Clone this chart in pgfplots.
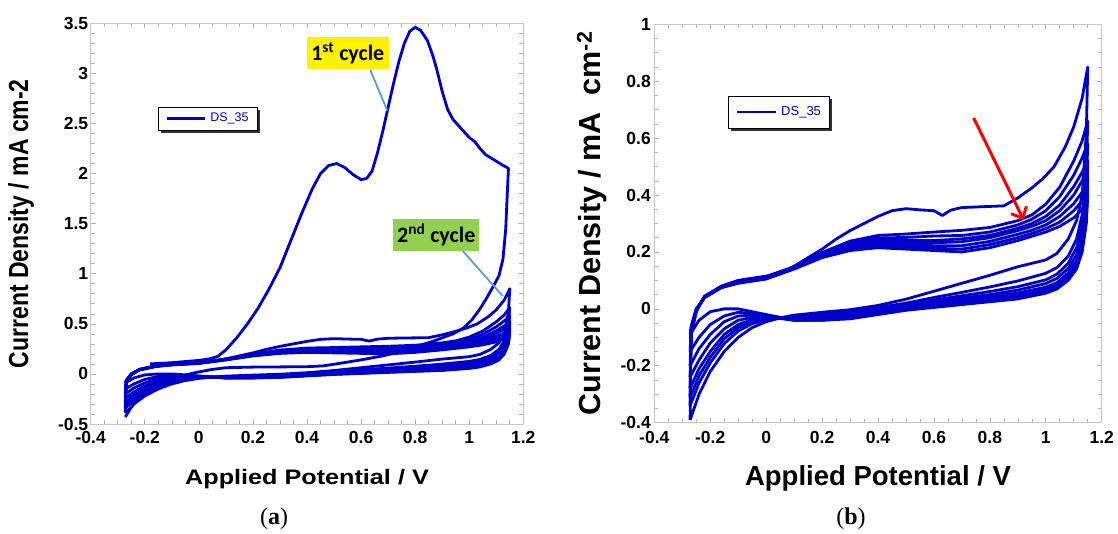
\documentclass[border=0pt]{standalone}
\usepackage{fontspec}
\setmainfont{Liberation Sans}
\newfontfamily\seriffont{Liberation Serif}
\newfontfamily\calib{Carlito}
\usepackage{pgfplots}
\pgfplotsset{compat=1.18}
\usepackage{pgfplotstable}
\usetikzlibrary{arrows.meta}
\definecolor{cvblue}{RGB}{0,0,204}
\definecolor{callout}{RGB}{91,155,213}
\definecolor{greenbox}{RGB}{146,208,80}

% cycle 1 (panel a only)
\pgfplotstableread{
x y
-0.18 0.10
-0.10 0.112
0.00 0.135
0.04 0.15
0.07 0.175
0.10 0.24
0.14 0.36
0.18 0.50
0.22 0.66
0.26 0.85
0.30 1.06
0.34 1.33
0.38 1.60
0.42 1.85
0.45 2.00
0.48 2.08
0.51 2.10
0.54 2.06
0.57 1.99
0.60 1.94
0.62 1.95
0.64 2.02
0.66 2.20
0.68 2.42
0.70 2.66
0.72 2.90
0.74 3.12
0.76 3.30
0.78 3.42
0.80 3.46
0.82 3.43
0.845 3.33
0.865 3.18
0.88 3.04
0.90 2.82
0.92 2.64
0.94 2.54
0.97 2.45
1.00 2.36
1.02 2.32
1.04 2.25
1.06 2.19
1.09 2.14
1.12 2.09
1.14 2.06
1.145 2.05
1.14 1.75
1.135 1.45
1.125 1.15
1.11 0.98
1.09 0.88
1.065 0.76
1.04 0.65
1.01 0.54
0.98 0.46
0.94 0.40
0.90 0.36
0.86 0.32
0.80 0.27
0.74 0.22
0.68 0.18
0.60 0.14
0.52 0.105
0.46 0.08
0.40 0.072
0.30 0.07
0.20 0.068
0.10 0.062
0.05 0.045
0.00 0.02
-0.05 -0.01
-0.10 -0.05
-0.15 -0.11
-0.20 -0.19
-0.24 -0.29
-0.272 -0.43
}\cycI

\pgfplotstableread{
x y
-0.272 -0.39
-0.270 -0.20
-0.268 -0.09
-0.25 -0.01
-0.22 0.045
-0.16 0.08
-0.10 0.10
0.00 0.115
0.05 0.125
0.10 0.15
0.15 0.18
0.20 0.21
0.25 0.245
0.30 0.275
0.35 0.30
0.40 0.325
0.45 0.345
0.50 0.352
0.55 0.348
0.60 0.345
0.63 0.328
0.66 0.347
0.70 0.356
0.75 0.358
0.80 0.36
0.85 0.362
0.90 0.39
0.95 0.425
0.99 0.458
1.03 0.50
1.07 0.57
1.10 0.64
1.13 0.74
1.15 0.85
1.145 0.62
1.13 0.40
1.11 0.31
1.08 0.245
1.04 0.195
1.00 0.172
0.95 0.16
0.90 0.148
0.80 0.118
0.70 0.09
0.60 0.062
0.50 0.034
0.40 0.012
0.30 -0.003
0.20 -0.012
0.10 -0.022
0.05 -0.032
0.00 -0.045
-0.05 -0.066
-0.10 -0.10
-0.15 -0.15
-0.20 -0.22
-0.24 -0.30
-0.272 -0.39
}\cycII

\pgfplotstableread{
x y
-0.272 -0.34
-0.270 -0.18
-0.268 -0.085
-0.25 -0.008
-0.22 0.044
-0.16 0.079
-0.10 0.099
0.00 0.114
0.10 0.148
0.20 0.198
0.30 0.238
0.40 0.258
0.50 0.263
0.60 0.27
0.70 0.276
0.80 0.286
0.90 0.31
0.95 0.33
1.00 0.368
1.05 0.428
1.10 0.52
1.13 0.59
1.15 0.66
1.145 0.48
1.13 0.33
1.11 0.245
1.08 0.185
1.04 0.145
1.00 0.125
0.90 0.098
0.80 0.077
0.70 0.058
0.60 0.04
0.50 0.02
0.40 0.005
0.30 -0.01
0.20 -0.02
0.10 -0.027
0.05 -0.031
0.00 -0.038
-0.05 -0.052
-0.10 -0.078
-0.15 -0.122
-0.20 -0.19
-0.24 -0.26
-0.272 -0.34
}\cycIII

\pgfplotstableread{
x y
-0.272 -0.31
-0.270 -0.17
-0.268 -0.08
-0.25 -0.006
-0.22 0.043
-0.16 0.078
-0.10 0.097
0.00 0.112
0.10 0.147
0.20 0.194
0.30 0.231
0.40 0.249
0.50 0.251
0.60 0.256
0.70 0.258
0.80 0.27
0.90 0.295
0.95 0.315
1.00 0.345
1.05 0.395
1.10 0.47
1.13 0.53
1.15 0.58
1.145 0.43
1.13 0.29
1.11 0.215
1.08 0.16
1.04 0.122
1.00 0.102
0.90 0.078
0.80 0.061
0.70 0.046
0.60 0.031
0.50 0.015
0.40 0.0
0.30 -0.015
0.20 -0.025
0.10 -0.03
0.05 -0.032
0.00 -0.035
-0.05 -0.045
-0.10 -0.066
-0.15 -0.105
-0.20 -0.17
-0.24 -0.235
-0.272 -0.31
}\cycIV

\pgfplotstableread{
x y
-0.272 -0.28
-0.270 -0.16
-0.268 -0.077
-0.25 -0.004
-0.22 0.043
-0.16 0.078
-0.10 0.096
0.00 0.111
0.10 0.146
0.20 0.19
0.30 0.226
0.40 0.242
0.50 0.241
0.60 0.24
0.70 0.246
0.80 0.258
0.90 0.283
0.95 0.30
1.00 0.325
1.05 0.365
1.10 0.43
1.13 0.48
1.15 0.52
1.145 0.39
1.13 0.26
1.11 0.19
1.08 0.142
1.04 0.107
1.00 0.089
0.90 0.066
0.80 0.05
0.70 0.038
0.60 0.025
0.50 0.01
0.40 -0.005
0.30 -0.02
0.20 -0.03
0.10 -0.035
0.05 -0.033
0.00 -0.033
-0.05 -0.038
-0.10 -0.055
-0.15 -0.09
-0.20 -0.15
-0.24 -0.21
-0.272 -0.28
}\cycV

\pgfplotstableread{
x y
-0.272 -0.24
-0.270 -0.15
-0.268 -0.074
-0.25 -0.003
-0.22 0.042
-0.16 0.077
-0.10 0.094
0.00 0.109
0.10 0.145
0.20 0.188
0.30 0.222
0.40 0.236
0.50 0.233
0.60 0.232
0.70 0.236
0.80 0.25
0.90 0.275
0.95 0.29
1.00 0.31
1.05 0.345
1.10 0.40
1.13 0.45
1.15 0.50
1.145 0.36
1.13 0.24
1.11 0.17
1.08 0.126
1.04 0.092
1.00 0.076
0.90 0.056
0.80 0.042
0.70 0.03
0.60 0.018
0.50 0.005
0.40 -0.01
0.30 -0.025
0.20 -0.035
0.10 -0.038
0.05 -0.034
0.00 -0.03
-0.05 -0.03
-0.10 -0.04
-0.15 -0.07
-0.20 -0.12
-0.24 -0.18
-0.272 -0.24
}\cycVI

\pgfplotstableread{
x y
-0.272 -0.20
-0.270 -0.13
-0.268 -0.07
-0.25 -0.002
-0.22 0.041
-0.16 0.076
-0.10 0.093
0.00 0.108
0.10 0.143
0.20 0.185
0.30 0.216
0.40 0.228
0.50 0.225
0.60 0.222
0.70 0.222
0.80 0.237
0.90 0.262
0.95 0.276
1.00 0.295
1.05 0.325
1.10 0.37
1.13 0.41
1.15 0.46
1.145 0.34
1.13 0.225
1.11 0.16
1.08 0.116
1.04 0.083
1.00 0.067
0.90 0.047
0.80 0.034
0.70 0.024
0.60 0.012
0.50 0.0
0.40 -0.013
0.30 -0.028
0.20 -0.037
0.10 -0.04
0.05 -0.033
0.00 -0.027
-0.05 -0.022
-0.10 -0.025
-0.15 -0.045
-0.20 -0.09
-0.24 -0.14
-0.272 -0.20
}\cycVII

\pgfplotstableread{
x y
-0.272 -0.15
-0.270 -0.11
-0.268 -0.066
-0.25 -0.001
-0.22 0.04
-0.16 0.075
-0.10 0.091
0.00 0.106
0.10 0.141
0.20 0.182
0.30 0.21
0.40 0.222
0.50 0.218
0.60 0.213
0.70 0.21
0.80 0.226
0.90 0.25
0.95 0.265
1.00 0.282
1.05 0.305
1.10 0.345
1.13 0.38
1.15 0.43
1.145 0.32
1.13 0.21
1.11 0.15
1.08 0.106
1.04 0.076
1.00 0.06
0.90 0.04
0.80 0.03
0.70 0.02
0.60 0.008
0.50 -0.003
0.40 -0.017
0.30 -0.032
0.20 -0.04
0.10 -0.04
0.05 -0.031
0.00 -0.024
-0.05 -0.016
-0.10 -0.012
-0.15 -0.025
-0.20 -0.055
-0.24 -0.10
-0.272 -0.15
}\cycVIII

\pgfplotstableread{
x y
-0.272 -0.09
-0.270 -0.075
-0.268 -0.06
-0.25 0.0
-0.22 0.04
-0.16 0.075
-0.10 0.09
0.00 0.105
0.10 0.14
0.20 0.18
0.30 0.205
0.40 0.215
0.50 0.21
0.60 0.205
0.70 0.20
0.80 0.215
0.90 0.24
0.95 0.255
1.00 0.27
1.05 0.29
1.10 0.32
1.13 0.35
1.15 0.40
1.145 0.30
1.13 0.20
1.11 0.14
1.08 0.10
1.04 0.07
1.00 0.055
0.90 0.035
0.80 0.025
0.70 0.015
0.60 0.005
0.50 -0.005
0.40 -0.02
0.30 -0.035
0.20 -0.04
0.10 -0.04
0.05 -0.03
0.00 -0.02
-0.05 -0.01
-0.10 0.0
-0.15 0.0
-0.20 -0.01
-0.24 -0.04
-0.272 -0.09
}\cycIX

\pgfplotsset{
  cv/.style={cvblue, line width=2.8pt, line join=round, no markers},
  cvaxis/.style={
    scale only axis,
    xmin=-0.4, xmax=1.2,
    xtick={-0.4,-0.2,0,0.2,0.4,0.6,0.8,1,1.2},
    minor x tick num=3,
    tick align=inside,
    major tick length=5pt, minor tick length=4pt,
    axis line style={draw=gray!45, line width=0.8pt},
    tick style={draw=gray!60, line width=0.6pt},
    tick label style={font=\fontsize{17.5}{20}\selectfont\bfseries},
    /pgf/number format/assume math mode=true,
  },
}

\begin{document}
\begin{tikzpicture}
\useasboundingbox (0,0) rectangle (1118pt,533pt);

% ---------------- panel (a)
\begin{axis}[cvaxis,
  at={(90.7pt,109pt)}, anchor=south west,
  width=432.6pt, height=400.7pt,
  ymin=-0.5, ymax=3.5,
  ytick={-0.5,0,0.5,1,1.5,2,2.5,3,3.5},
  minor y tick num=4,
  xticklabel style={yshift=-4pt},
  yticklabel style={xshift=1pt},
  xlabel={\scalebox{1.2}[1]{Applied Potential / V}},
  xlabel style={font=\fontsize{21}{24}\selectfont\bfseries, at={(axis description cs:0.5,-0.137)}, anchor=center},
  ylabel={\scalebox{1}[1.2]{Current Density / mA cm-2}},
  ylabel style={font=\fontsize{23}{26}\selectfont\bfseries, at={(axis description cs:-0.161,0.5)}, anchor=center},
]
\addplot[cv] table {\cycI};
\addplot[cv] table {\cycII};
\addplot[cv] table {\cycIII};
\addplot[cv] table {\cycIV};
\addplot[cv] table {\cycV};
\addplot[cv] table {\cycVI};
\addplot[cv] table {\cycVII};
\addplot[cv] table {\cycVIII};
\addplot[cv] table {\cycIX};

% legend
\fill[black!80] ([xshift=3pt,yshift=-3pt]rel axis cs:0.1556,0.7911) rectangle ([xshift=3pt,yshift=-3pt]rel axis cs:0.3844,0.7337);
\draw[black, line width=0.8pt, fill=white] (rel axis cs:0.1556,0.7911) rectangle (rel axis cs:0.3844,0.7337);
\draw[cvblue, line width=2.2pt] (rel axis cs:0.1773,0.7624) -- (rel axis cs:0.2641,0.7624);
\node[anchor=west, inner sep=0pt, text=cvblue, font=\fontsize{12.5}{14}\selectfont] at (rel axis cs:0.2762,0.7624) {DS\_35};

\draw[callout, line width=1.8pt] (axis cs:0.634,3.034) -- (axis cs:0.697,2.628);
\fill[yellow] (axis cs:0.399,3.044) rectangle (axis cs:0.703,3.36);
\node[font=\calib\bfseries\fontsize{22}{24}\selectfont, black] at (axis cs:0.551,3.2) {1\textsuperscript{st} cycle};

\draw[callout, line width=1.8pt] (axis cs:0.976,1.228) -- (axis cs:1.124,0.778);
\fill[greenbox] (axis cs:0.719,1.228) rectangle (axis cs:1.037,1.544);
\node[font=\calib\bfseries\fontsize{22}{24}\selectfont, black] at (axis cs:0.878,1.386) {2\textsuperscript{nd} cycle};
\end{axis}

% ---------------- panel (b)
\begin{axis}[cvaxis,
  at={(654.3pt,110.3pt)}, anchor=south west,
  width=447.4pt, height=398.4pt,
  ymin=-0.4, ymax=1,
  ytick={-0.4,-0.2,0,0.2,0.4,0.6,0.8,1},
  minor y tick num=3,
  xticklabel style={yshift=-5pt},
  xlabel={Applied Potential / V},
  xlabel style={font=\fontsize{27.5}{30}\selectfont\bfseries, at={(axis description cs:0.5,-0.139)}, anchor=center},
  ylabel={Current Density / mA\ \ cm\textsuperscript{-2}},
  ylabel style={font=\fontsize{30.5}{33}\selectfont\bfseries, at={(axis description cs:-0.139,0.5)}, anchor=center},
]
\addplot[cv] table {\cycII};
\addplot[cv] table {\cycIII};
\addplot[cv] table {\cycIV};
\addplot[cv] table {\cycV};
\addplot[cv] table {\cycVI};
\addplot[cv] table {\cycVII};
\addplot[cv] table {\cycVIII};
\addplot[cv] table {\cycIX};

% legend
\fill[black!80] ([xshift=3pt,yshift=-3pt]rel axis cs:0.1647,0.82) rectangle ([xshift=3pt,yshift=-3pt]rel axis cs:0.3905,0.7397);
\draw[black, line width=0.8pt, fill=white] (rel axis cs:0.1647,0.82) rectangle (rel axis cs:0.3905,0.7397);
\draw[cvblue, line width=2.4pt] (rel axis cs:0.1848,0.7799) -- (rel axis cs:0.2720,0.7799);
\node[anchor=west, inner sep=0pt, text=cvblue, font=\fontsize{13}{15}\selectfont] at (rel axis cs:0.2832,0.7799) {DS\_35};

\draw[red, line width=3pt, -{Straight Barb[length=9pt, width=17pt]}] (axis cs:0.742,0.671) -- (axis cs:0.921,0.312);
\end{axis}

\node[font=\seriffont\fontsize{24}{27}\selectfont] at (274pt,14pt) {(\textbf{a})};
\node[font=\seriffont\fontsize{24}{27}\selectfont] at (851pt,14pt) {(\textbf{b})};
\end{tikzpicture}
\end{document}
